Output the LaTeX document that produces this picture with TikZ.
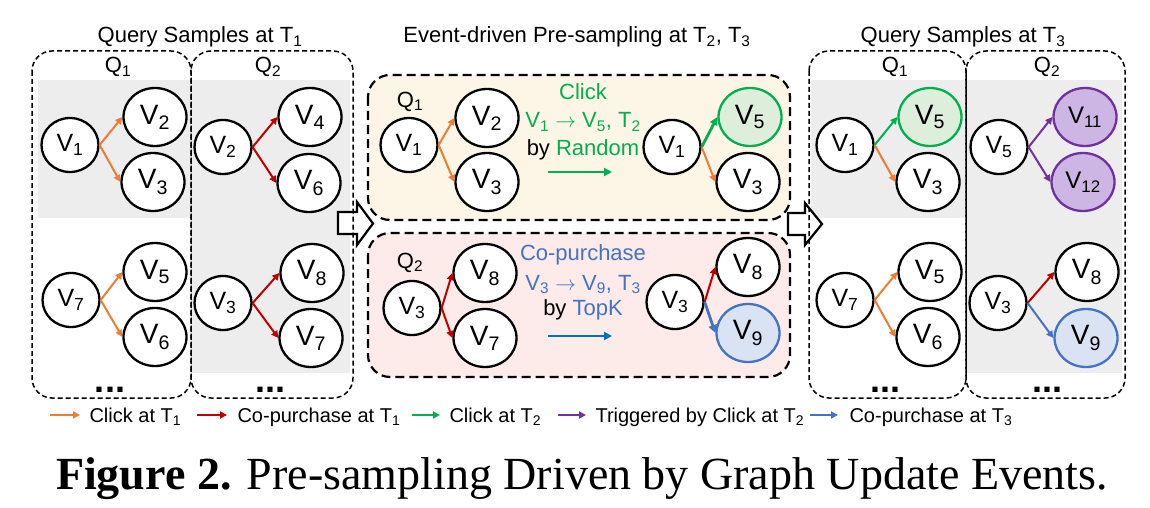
\documentclass[tikz,border=0pt]{standalone}
\usepackage{fontspec}
\usetikzlibrary{shapes.geometric,arrows.meta}
\newfontfamily\arial{Liberation Sans}
\newfontfamily\capfont{Liberation Serif}
\definecolor{corange}{HTML}{ED7D31}
\definecolor{cred}{HTML}{C00000}
\definecolor{cgreen}{HTML}{00B050}
\definecolor{cgreenl}{HTML}{DDEEDA}
\definecolor{cpurple}{HTML}{7030A0}
\definecolor{cpurplel}{HTML}{CDB6E3}
\definecolor{cblue}{HTML}{4472C4}
\definecolor{cbluel}{HTML}{DAE3F3}
\definecolor{cbluedk}{HTML}{0070C0}
\definecolor{cgray}{HTML}{EDEDED}
\definecolor{cyellow}{HTML}{FDF6E6}
\definecolor{cpink}{HTML}{FCEBE9}
\newcommand\sub[1]{\textsubscript{#1}}
\newcommand\fs[1]{\fontsize{#1}{#1}\selectfont}
\begin{document}
\begin{tikzpicture}[x=1pt,y=-1pt,
  src/.style={ellipse, draw, line width=2.3pt, fill=white, minimum width=57pt, minimum height=54pt, inner sep=0pt, font=\arial\fs{25}},
  tgt/.style={src, minimum width=63pt, minimum height=58pt, font=\arial\fs{28}},
  gnode/.style={tgt, draw=cgreen, fill=cgreenl},
  pnode/.style={tgt, draw=cpurple, fill=cpurplel, font=\arial\fs{24}},
  bnode/.style={tgt, draw=cblue, fill=cbluel},
  edge/.style={line width=2pt, -{Triangle[length=7pt,width=7pt]}},
  bigedge/.style={line width=2.8pt, -{Triangle[length=8pt,width=8pt]}},
  qbox/.style={draw, line width=1.5pt, rounded corners=20pt, dash pattern=on 5pt off 3pt},
  mbox/.style={draw, line width=2.2pt, rounded corners=22pt, dash pattern=on 9pt off 5pt},
  title/.style={anchor=base, font=\arial\fs{22}},
  qlab/.style={anchor=base, font=\arial\fs{22}},
  dots/.style={anchor=base, font=\arial\bfseries\fs{36}},
  hollow/.style={draw, line width=2.2pt, fill=white, line join=miter},
  leg/.style={anchor=base west, font=\arial\fs{20}},
  legarrow/.style={line width=2pt, -{Triangle[length=7pt,width=7pt]}}
]
\useasboundingbox (0,0) rectangle (1150,508);

% ---------- backgrounds ----------
\fill[cgray] (38,80) rectangle (191,218);
\fill[cgray] (191,80) rectangle (350,373);
\fill[cgray] (811,80) rectangle (966,218);
\fill[cgray] (966,80) rectangle (1122,373);
\fill[cyellow, rounded corners=22pt] (368,75) rectangle (790,220);
\fill[cpink, rounded corners=22pt] (368,233) rectangle (790,377);

% ---------- hollow arrows ----------
\draw[hollow] (338,212) -- (357,212) -- (357,202) -- (373,223.5) -- (357,245) -- (357,234) -- (338,234) -- cycle;
\draw[hollow] (788,213) -- (805,213) -- (805,203) -- (822,224) -- (805,245) -- (805,235) -- (788,235) -- cycle;

% ---------- dashed boxes ----------
\draw[qbox] (32,51) rectangle (191,398);
\draw[qbox] (191,51) rectangle (353,398);
\draw[qbox] (809,51) rectangle (966,398);
\draw[qbox] (966,51) rectangle (1125,398);
\draw[mbox] (368,75) rectangle (790,220);
\draw[mbox] (368,233) rectangle (790,377);

% ---------- titles ----------
\node[title] (t1) at (200,43) {Query Samples at T\sub{1}};
\node[title] (t2) at (577,43) {Event-driven Pre-sampling at T\sub{2}, T\sub{3}};
\node[title] (t3) at (963,43) {Query Samples at T\sub{3}};

\node[qlab] (lq1) at (118,73) {Q\sub{1}};
\node[qlab] (lq2) at (268,73) {Q\sub{2}};
\node[qlab] (rq1) at (895,73) {Q\sub{1}};
\node[qlab] (rq2) at (1047,73) {Q\sub{2}};
\node[qlab] (mq1) at (410,107) {Q\sub{1}};
\node[qlab] (mq2) at (410,268) {Q\sub{2}};

% ---------- left panel ----------
\node[src] (L1) at (70,145) {V\sub{1}};
\node[tgt] (L2) at (155,117) {V\sub{2}};
\node[tgt] (L3) at (153,182) {V\sub{3}};
\node[src] (L4) at (223,147) {V\sub{2}};
\node[tgt] (L5) at (310,117) {V\sub{4}};
\node[tgt] (L6) at (309,183) {V\sub{6}};
\node[src] (L7) at (71,300) {V\sub{7}};
\node[tgt] (L8) at (155,272) {V\sub{5}};
\node[tgt] (L9) at (155,337) {V\sub{6}};
\node[src] (L10) at (223,303) {V\sub{3}};
\node[tgt] (L11) at (312,273) {V\sub{8}};
\node[tgt] (L12) at (311,338) {V\sub{7}};
\draw[edge, corange] (L1.east) -- (L2.west);
\draw[edge, corange] (L1.east) -- (L3.west);
\draw[edge, cred] (L4.east) -- (L5.west);
\draw[edge, cred] (L4.east) -- (L6.west);
\draw[edge, corange] (L7.east) -- (L8.west);
\draw[edge, corange] (L7.east) -- (L9.west);
\draw[edge, cred] (L10.east) -- (L11.west);
\draw[edge, cred] (L10.east) -- (L12.west);
\node[dots] (ld1) at (110,392) {...};
\node[dots] (ld2) at (270,392) {...};

% ---------- middle panel ----------
\node[src] (M1) at (409,145) {V\sub{1}};
\node[tgt] (M2) at (487,118) {V\sub{2}};
\node[tgt] (M3) at (487,182) {V\sub{3}};
\node[src] (M4) at (672,147) {V\sub{1}};
\node[gnode] (M5) at (750,117) {V\sub{5}};
\node[tgt] (M6) at (748,182) {V\sub{3}};
\draw[edge, corange] (M1.east) -- (M2.west);
\draw[edge, corange] (M1.east) -- (M3.west);
\draw[bigedge, cgreen] (M4.east) -- (M5.west);
\draw[edge, corange] (M4.east) -- (M6.west);
\node[anchor=base, font=\arial\fs{22}, text=cgreen] (mt1) at (583,100) {Click};
\node[anchor=base, font=\arial\fs{22}, text=cgreen] (mt2) at (583,128) {V\sub{1} $\rightarrow$ V\sub{5}, T\sub{2}};
\node[anchor=base, font=\arial\fs{22}] (mt3) at (583,155) {by \textcolor{cgreen}{Random}};
\coordinate (ga) at (548,172);
\coordinate (gb) at (612,172);
\draw[bigedge, cgreen] (ga) -- (gb);

\node[src] (M7) at (412,308) {V\sub{3}};
\node[tgt] (M8) at (485,273) {V\sub{8}};
\node[tgt] (M9) at (485,338) {V\sub{7}};
\node[src] (M10) at (675,302) {V\sub{3}};
\node[tgt] (M11) at (748,267) {V\sub{8}};
\node[bnode] (M12) at (748,333) {V\sub{9}};
\draw[edge, cred] (M7.east) -- (M8.west);
\draw[edge, cred] (M7.east) -- (M9.west);
\draw[edge, cred] (M10.east) -- (M11.west);
\draw[bigedge, cblue] (M10.east) -- (M12.west);
\node[anchor=base, font=\arial\fs{22}, text=cblue] (mt4) at (583,260) {Co-purchase};
\node[anchor=base, font=\arial\fs{22}, text=cblue] (mt5) at (583,290) {V\sub{3} $\rightarrow$ V\sub{9}, T\sub{3}};
\node[anchor=base, font=\arial\fs{22}] (mt6) at (583,315) {by \textcolor{cblue}{TopK}};
\coordinate (ba) at (548,336);
\coordinate (bb) at (612,336);
\draw[bigedge, cbluedk] (ba) -- (bb);

% ---------- right panel ----------
\node[src] (R1) at (845,145) {V\sub{1}};
\node[gnode] (R2) at (930,117) {V\sub{5}};
\node[tgt] (R3) at (928,182) {V\sub{3}};
\node[src] (R4) at (999,147) {V\sub{5}};
\node[pnode] (R5) at (1085,117) {V\sub{11}};
\node[pnode] (R6) at (1083,182) {V\sub{12}};
\node[src] (R7) at (845,300) {V\sub{7}};
\node[tgt] (R8) at (930,272) {V\sub{5}};
\node[tgt] (R9) at (928,337) {V\sub{6}};
\node[src] (R10) at (998,303) {V\sub{3}};
\node[tgt] (R11) at (1087,272) {V\sub{8}};
\node[bnode] (R12) at (1086,338) {V\sub{9}};
\draw[edge, cgreen] (R1.east) -- (R2.west);
\draw[edge, corange] (R1.east) -- (R3.west);
\draw[edge, cpurple] (R4.east) -- (R5.west);
\draw[edge, cpurple] (R4.east) -- (R6.west);
\draw[edge, corange] (R7.east) -- (R8.west);
\draw[edge, corange] (R7.east) -- (R9.west);
\draw[edge, cred] (R10.east) -- (R11.west);
\draw[edge, cblue] (R10.east) -- (R12.west);
\node[dots] (rd1) at (885,392) {...};
\node[dots] (rd2) at (1047,392) {...};

% ---------- legend ----------
\coordinate (a1) at (50,415);
\coordinate (b1) at (80,415);
\draw[legarrow, corange] (a1) -- (b1);
\node[leg] (l1) at (86,422) {Click at T\sub{1}};
\coordinate (a2) at (197,415);
\coordinate (b2) at (227,415);
\draw[legarrow, cred] (a2) -- (b2);
\node[leg] (l2) at (234,422) {Co-purchase at T\sub{1}};
\coordinate (a3) at (412,415);
\coordinate (b3) at (440,415);
\draw[legarrow, cgreen] (a3) -- (b3);
\node[leg] (l3) at (446,422) {Click at T\sub{2}};
\coordinate (a4) at (558,415);
\coordinate (b4) at (586,415);
\draw[legarrow, cpurple] (a4) -- (b4);
\node[leg] (l4) at (592,422) {Triggered by Click at T\sub{2}};
\coordinate (a5) at (810,415);
\coordinate (b5) at (838,415);
\draw[legarrow, cblue] (a5) -- (b5);
\node[leg] (l5) at (846,422) {Co-purchase at T\sub{3}};

% ---------- caption ----------
\node[anchor=base, font=\capfont\fs{46}] (cap) at (582,489) {\textbf{Figure 2.} Pre-sampling Driven by Graph Update Events.};
\end{tikzpicture}
\end{document}
